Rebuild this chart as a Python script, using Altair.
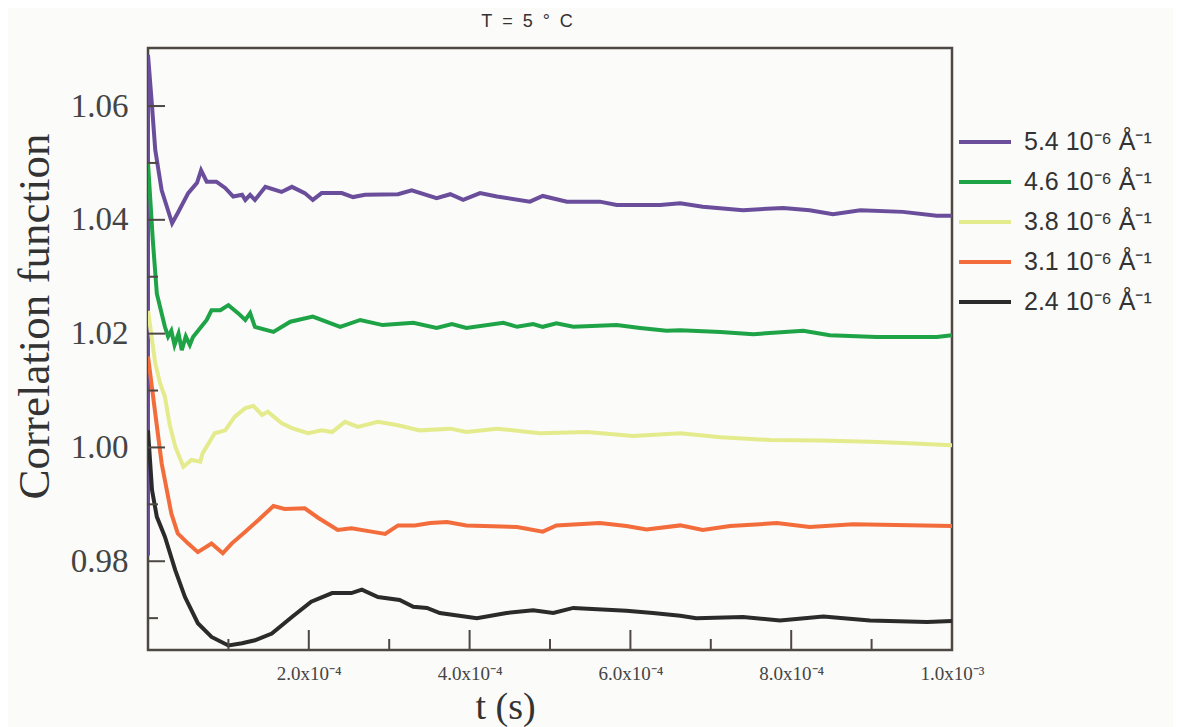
import altair as alt
import pandas as pd

# ---- data (time in units of 1e-4 s, correlation function values) ----
series_labels = ["5.4 10⁻⁶ Å⁻¹", "4.6 10⁻⁶ Å⁻¹", "3.8 10⁻⁶ Å⁻¹", "3.1 10⁻⁶ Å⁻¹", "2.4 10⁻⁶ Å⁻¹"]
series_colors = ["#6a4e9b", "#1fa347", "#e4eb8c", "#f36c3b", "#2b2b2b"]

purple_t = [0, 0, 0.05, 0.09, 0.17, 0.30, 0.37, 0.50, 0.61, 0.66, 0.73, 0.85, 0.96, 1.06, 1.17, 1.21,
            1.27, 1.33, 1.46, 1.66, 1.79, 1.95, 2.05, 2.16, 2.41, 2.55, 2.70, 3.11, 3.28, 3.59, 3.76,
            3.92, 4.13, 4.34, 4.75, 4.91, 5.21, 5.62, 5.83, 6.37, 6.62, 6.90, 7.40, 7.90, 8.23, 8.52,
            8.86, 9.39, 9.81, 10.0]
purple_g = [0.981, 1.069, 1.060, 1.0523, 1.0452, 1.0394, 1.0412, 1.0447, 1.0465, 1.0487, 1.0467, 1.0467,
            1.0456, 1.0441, 1.0444, 1.0435, 1.0444, 1.0435, 1.0458, 1.0449, 1.0458, 1.0447, 1.0435,
            1.0447, 1.0447, 1.0440, 1.0444, 1.0445, 1.0452, 1.0438, 1.0445, 1.0435, 1.0447, 1.0441,
            1.0432, 1.0442, 1.0432, 1.0432, 1.0426, 1.0426, 1.0429, 1.0423, 1.0417, 1.0421, 1.0417,
            1.0410, 1.0417, 1.0414, 1.0407, 1.0407]

green_t = [0, 0.06, 0.11, 0.21, 0.25, 0.29, 0.33, 0.38, 0.42, 0.47, 0.52, 0.56, 0.73, 0.79, 0.90, 1.00,
           1.12, 1.21, 1.27, 1.33, 1.56, 1.77, 2.05, 2.39, 2.64, 2.92, 3.30, 3.59, 3.78, 3.96, 4.42,
           4.59, 4.79, 4.91, 5.08, 5.29, 5.83, 6.12, 6.45, 6.62, 7.12, 7.53, 8.15, 8.48, 9.06, 9.81, 10.0]
green_g = [1.0500, 1.0364, 1.0270, 1.0212, 1.0195, 1.0205, 1.0180, 1.0200, 1.0171, 1.0195, 1.0180, 1.0194,
           1.0224, 1.0241, 1.0241, 1.0250, 1.0236, 1.0224, 1.0236, 1.0212, 1.0203, 1.0221, 1.0230,
           1.0212, 1.0224, 1.0215, 1.0219, 1.0210, 1.0217, 1.0210, 1.0219, 1.0212, 1.0217, 1.0212,
           1.0218, 1.0212, 1.0215, 1.0210, 1.0205, 1.0206, 1.0203, 1.0199, 1.0205, 1.0197, 1.0194,
           1.0194, 1.0197]

yellow_t = [0, 0.05, 0.09, 0.15, 0.21, 0.27, 0.34, 0.44, 0.54, 0.65, 0.68, 0.83, 0.96, 1.08, 1.21, 1.31,
            1.42, 1.49, 1.66, 1.79, 1.99, 2.16, 2.29, 2.45, 2.61, 2.86, 3.11, 3.38, 3.76, 3.96, 4.34,
            4.87, 5.46, 6.03, 6.62, 7.12, 7.74, 8.36, 8.98, 9.39, 10.0]
yellow_g = [1.0240, 1.0189, 1.0148, 1.0113, 1.0089, 1.0040, 1.0001, 0.9966, 0.9978, 0.9975, 0.9990,
            1.0025, 1.0030, 1.0054, 1.0069, 1.0073, 1.0057, 1.0063, 1.0043, 1.0034, 1.0025, 1.0030,
            1.0027, 1.0045, 1.0036, 1.0045, 1.0039, 1.0030, 1.0033, 1.0027, 1.0033, 1.0025, 1.0027,
            1.0020, 1.0025, 1.0018, 1.0013, 1.0012, 1.0010, 1.0008, 1.0004]

orange_t = [0, 0.09, 0.17, 0.29, 0.37, 0.50, 0.62, 0.79, 0.93, 1.04, 1.21, 1.37, 1.56, 1.70, 1.95, 2.12,
            2.36, 2.53, 2.78, 2.95, 3.11, 3.32, 3.51, 3.72, 3.96, 4.59, 4.91, 5.08, 5.62, 5.95, 6.20,
            6.62, 6.90, 7.24, 7.82, 8.23, 8.77, 10.0]
orange_g = [1.0160, 1.0060, 0.9972, 0.9884, 0.9849, 0.9831, 0.9816, 0.9831, 0.9814, 0.9831, 0.9852,
            0.9872, 0.9897, 0.9892, 0.9893, 0.9876, 0.9855, 0.9858, 0.9852, 0.9848, 0.9863, 0.9863,
            0.9867, 0.9869, 0.9863, 0.9860, 0.9852, 0.9863, 0.9867, 0.9862, 0.9856, 0.9863, 0.9855,
            0.9862, 0.9867, 0.9860, 0.9865, 0.9862]

black_t = [0, 0.05, 0.11, 0.21, 0.34, 0.46, 0.62, 0.79, 1.00, 1.17, 1.33, 1.54, 1.79, 2.03, 2.29, 2.53,
           2.66, 2.86, 3.13, 3.30, 3.47, 3.63, 4.09, 4.46, 4.79, 5.04, 5.29, 5.95, 6.28, 6.62, 6.82,
           7.40, 7.86, 8.40, 8.98, 9.69, 10.0]
black_g = [1.0030, 0.9925, 0.9878, 0.9843, 0.9784, 0.9737, 0.9691, 0.9667, 0.9652, 0.9656, 0.9661,
           0.9673, 0.9702, 0.9729, 0.9744, 0.9744, 0.9750, 0.9737, 0.9732, 0.9720, 0.9718, 0.9709,
           0.9700, 0.9709, 0.9714, 0.9709, 0.9718, 0.9713, 0.9709, 0.9704, 0.9700, 0.9702, 0.9696,
           0.9703, 0.9696, 0.9693, 0.9695]

x_label_values = [2, 4, 6, 8, 10]          # in 1e-4 s
x_label_texts = ["2.0x10⁻⁴", "4.0x10⁻⁴", "6.0x10⁻⁴", "8.0x10⁻⁴", "1.0x10⁻³"]
x_minor_ticks = [1, 3, 5, 7, 9]
y_major_ticks = [0.98, 1.00, 1.02, 1.04, 1.06]
y_minor_ticks = [0.97, 0.99, 1.01, 1.03, 1.05]

# ---- build table ----
all_t = [purple_t, green_t, yellow_t, orange_t, black_t]
all_g = [purple_g, green_g, yellow_g, orange_g, black_g]
rows = []
for lab, ts, gs in zip(series_labels, all_t, all_g):
    for i, (t, g) in enumerate(zip(ts, gs)):
        rows.append({"series": lab, "t": t * 1e-4, "g": g, "i": i})
df = pd.DataFrame(rows)

FRAME = "#4d4843"
BG = "#fbfbf9"
W, H = 804, 602

xs = alt.Scale(domain=[0, 0.001], nice=False, zero=False)
ys = alt.Scale(domain=[0.9644, 1.0702], nice=False, zero=False)

# label expression: chain of conditions built from the tick lists
expr = "''"
for v, s in reversed(list(zip(x_label_values, x_label_texts))):
    expr = "(abs(datum.value - %g) < 1e-6 ? '%s' : %s)" % (v * 1e-4, s, expr)

x_axis = alt.Axis(
    values=[v * 1e-4 for v in x_label_values],
    labelExpr=expr,
    ticks=False, domain=False, grid=False,
    labelFont="Liberation Serif", labelFontSize=19, labelColor="#444",
    labelPadding=14, labelFlush=False, labelOverlap=False,
    title="t (s)", titleFont="Liberation Serif", titleFontSize=38, titleFontWeight="normal",
    titleColor="#333", titleX=357, titleY=68, titleAlign="center", titleBaseline="alphabetic",
)
y_axis = alt.Axis(
    values=y_major_ticks, format=".2f",
    ticks=False, domain=False, grid=False,
    labelFont="Liberation Serif", labelFontSize=33, labelColor="#444", labelPadding=20,
    title="Correlation function", titleFont="Liberation Serif", titleFontSize=45,
    titleFontWeight="normal", titleColor="#333", titleAngle=270,
    titleX=-114, titleY=268, titleAlign="center", titleBaseline="middle",
)

X = alt.X("t:Q", scale=xs, axis=x_axis)
Y = alt.Y("g:Q", scale=ys, axis=y_axis)

lines = alt.Chart(df).mark_line(strokeWidth=4, clip=True).encode(
    x=X,
    y=Y,
    color=alt.Color(
        "series:N",
        scale=alt.Scale(domain=series_labels, range=series_colors),
        sort=series_labels,
        legend=alt.Legend(
            title=None, orient="none", legendX=809, legendY=74, padding=0,
            symbolType="stroke", symbolSize=2704, symbolStrokeWidth=4, clipHeight=40,
            rowPadding=0, labelOffset=11, labelFont="Liberation Sans", labelFontSize=25,
            labelColor="#333", labelLimit=0,
        ),
    ),
    order=alt.Order("i:Q"),
)

xmaj = alt.Chart(pd.DataFrame({"t": [v * 1e-4 for v in x_label_values]})).mark_rule(
    color=FRAME, strokeWidth=2).encode(x=X, y=alt.value(H), y2=alt.value(H - 20))
xmin = alt.Chart(pd.DataFrame({"t": [v * 1e-4 for v in x_minor_ticks]})).mark_rule(
    color=FRAME, strokeWidth=2).encode(x=X, y=alt.value(H), y2=alt.value(H - 11))
ymaj = alt.Chart(pd.DataFrame({"g": y_major_ticks})).mark_rule(
    color=FRAME, strokeWidth=2).encode(y=Y, x=alt.value(0), x2=alt.value(17))
ymin = alt.Chart(pd.DataFrame({"g": y_minor_ticks})).mark_rule(
    color=FRAME, strokeWidth=2).encode(y=Y, x=alt.value(0), x2=alt.value(10))

NB = "\u00a0\u00a0"
chart = alt.layer(lines, xmaj, xmin, ymaj, ymin).properties(
    width=W, height=H,
    title=alt.TitleParams("T" + NB + "=" + NB + "5" + NB + "°" + NB + "C", font="Liberation Sans",
                          fontSize=18, fontWeight="normal",
                          color="#333", offset=17, dx=-23, anchor="middle"),
    autosize=alt.AutoSizeParams(type="none"),
    padding={"left": 140, "top": 40, "right": 221, "bottom": 77},
    background=BG,
).configure_view(stroke=FRAME, strokeWidth=2.5, fill=BG)

chart.save("out.html", embed_options={"renderer": "svg", "actions": False})
